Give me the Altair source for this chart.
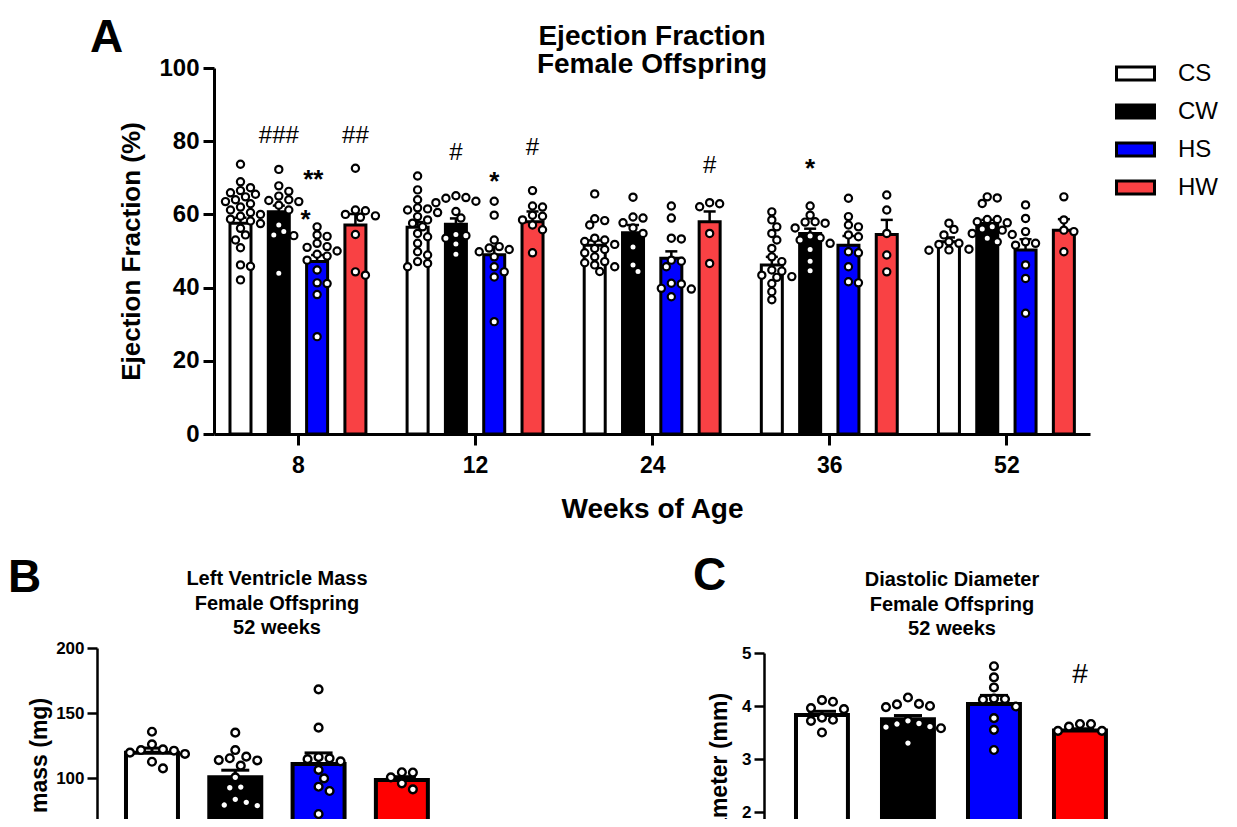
import altair as alt
import pandas as pd

FONT = "Liberation Sans"

# ---------------- data ----------------
groups = ["CS", "CW", "HS", "HW"]
weeks = ["8", "12", "24", "36", "52"]
fill_a = ["#FFFFFF", "#000000", "#0000FF", "#F94144"]
fill_bc = ["#FFFFFF", "#000000", "#0000FF", "#FF0000"]

# Panel A: Ejection fraction (%), group order CS, CW, HS, HW
ef_mean_w8 = [57.6, 60.7, 47.1, 57.1]
ef_mean_w12 = [56.5, 57.3, 49.0, 58.0]
ef_mean_w24 = [51.6, 55.0, 48.0, 58.0]
ef_mean_w36 = [46.2, 54.8, 51.6, 54.5]
ef_mean_w52 = [52.5, 57.5, 50.3, 55.7]

ef_sem_w8 = [1.5, 1.7, 1.8, 3.0]
ef_sem_w12 = [1.4, 1.6, 2.2, 2.8]
ef_sem_w24 = [1.3, 2.1, 1.9, 2.8]
ef_sem_w36 = [2.2, 1.3, 2.5, 4.0]
ef_sem_w52 = [1.2, 1.0, 2.9, 3.0]

ef_dots_w8 = [
    [73.7, 68.9, 67.3, 66.5, 65.9, 65.5, 64.8, 64.0, 63.5, 62.9, 62.0, 61.2, 60.5,
     60.0, 59.5, 58.7, 58.2, 57.5, 56.2, 54.4, 53.0, 50.9, 46.2, 45.8, 42.1],
    [72.3, 67.8, 66.3, 65.0, 64.0, 63.8, 63.5, 62.5, 61.2, 57.1, 55.3, 54.4, 54.2, 43.9],
    [56.6, 54.4, 54.0, 52.1, 51.2, 51.0, 50.0, 49.1, 48.6, 47.5, 44.8, 41.3, 41.1, 38.1, 26.6],
    [72.6, 61.2, 61.0, 60.0, 59.6, 59.2, 54.5, 44.3, 43.4],
]
ef_dots_w12 = [
    [70.5, 66.7, 64.0, 61.8, 61.5, 61.2, 60.5, 59.4, 58.5, 57.6, 56.6, 54.8, 53.9,
     52.1, 49.8, 48.9, 47.1, 46.6, 45.7],
    [65.1, 64.6, 64.4, 63.6, 63.2, 60.8, 59.0, 54.5, 54.2, 53.5, 51.9, 49.1],
    [63.6, 59.8, 53.0, 51.2, 50.8, 50.4, 49.8, 48.4, 45.7, 44.3, 42.9, 30.7],
    [66.5, 62.3, 62.0, 59.8, 59.5, 58.5, 57.1, 55.8, 49.5],
]
ef_dots_w24 = [
    [65.6, 58.8, 58.3, 57.1, 53.5, 53.0, 52.6, 51.8, 50.7, 50.4, 49.5, 48.4, 47.1,
     46.8, 46.2, 45.7, 44.4],
    [64.7, 59.3, 59.0, 57.7, 56.3, 54.8, 51.1, 46.2, 44.4],
    [62.3, 59.0, 53.5, 53.3, 47.5, 47.2, 45.7, 41.2, 41.0, 39.8, 39.6, 37.5],
    [63.2, 62.1, 62.9, 54.8, 46.6],
]
ef_dots_w36 = [
    [60.7, 58.5, 56.6, 54.8, 53.0, 50.7, 48.4, 47.1, 44.8, 44.5, 43.4, 43.0, 42.8,
     41.1, 38.9, 36.7],
    [62.3, 59.8, 58.0, 57.6, 57.9, 56.3, 54.1, 53.6, 53.0, 52.1, 50.4, 47.2, 44.6],
    [64.4, 59.4, 57.1, 56.6, 54.4, 53.9, 49.8, 49.5, 45.7, 41.3, 41.6],
    [65.3, 61.2, 54.8, 48.9, 44.3],
]
ef_dots_w52 = [
    [57.6, 55.9, 54.4, 52.5, 52.1, 51.8, 50.3, 50.2, 50.5],
    [64.8, 64.5, 63.0, 58.6, 58.6, 58.0, 57.7, 56.6, 56.0, 55.7, 54.8, 54.5, 53.5, 52.5],
    [62.6, 58.9, 55.3, 52.5, 52.1, 51.6, 46.2, 42.5, 33.0],
    [64.8, 58.5, 55.7, 55.3, 49.8],
]

# significance marks in panel A: (week index, group index, text, value, shift in bar steps)
ef_marks_week = [0, 0, 0, 0, 1, 1, 1, 2, 3]
ef_marks_group = [1, 3, 2, 2, 1, 2, 3, 3, 1]
ef_marks_text = ["###", "##", "**", "*", "#", "*", "#", "#", "*"]
ef_marks_value = [81.7, 81.7, 71.2, 60.3, 77.1, 70.8, 78.5, 73.5, 74.4]
ef_marks_shift = [0.0, 0.0, -0.1, -0.3, 0.0, 0.0, 0.0, 0.0, 0.0]

# Panel B: LV mass (mg) at 52 weeks
lv_mean = [119.5, 100.5, 110.8, 98.5]
lv_sem = [3.5, 5.5, 8.5, 2.5]
lv_dots = [
    [135.6, 125.9, 122.0, 121.5, 121.0, 119.5, 118.5, 112.5, 107.4],
    [134.9, 121.5, 116.4, 115.2, 113.8, 113.5, 109.5, 100.5, 93.0, 92.5, 83.6, 81.3, 79.2, 78.7],
    [168.2, 138.7, 116.0, 115.1, 114.5, 112.8, 106.2, 99.7, 93.3, 90.0, 72.3],
    [104.4, 104.2, 100.5, 95.9, 91.3],
]

# Panel C: Diastolic diameter (mm) at 52 weeks
dd_mean = [3.83, 3.75, 4.04, 3.54]
dd_sem = [0.07, 0.07, 0.16, 0.03]
dd_dots = [
    [4.11, 4.08, 3.96, 3.94, 3.78, 3.74, 3.72, 3.50],
    [4.16, 4.04, 4.03, 4.00, 3.98, 3.72, 3.67, 3.66, 3.61, 3.60, 3.58, 3.30],
    [4.75, 4.54, 4.35, 4.14, 4.13, 4.12, 3.99, 3.77, 3.55, 3.17],
    [3.66, 3.66, 3.61, 3.53, 3.53],
]
dd_marks_group = [3]
dd_marks_text = ["#"]
dd_marks_value = [4.62]

title_a = ["Ejection Fraction", "Female Offspring"]
title_b = ["Left Ventricle Mass", "Female Offspring", "52 weeks"]
title_c = ["Diastolic Diameter", "Female Offspring", "52 weeks"]

# ---------------- layout helpers ----------------
W, H = 1221, 811


def swarm(vals, ypx, dpx, allow=0.6):
    """deterministic beeswarm offsets (pixels); small overlaps allowed as in the original"""
    order = sorted(range(len(vals)), key=lambda i: -vals[i])
    placed, out = [], [0.0] * len(vals)
    for i in order:
        y = vals[i] * ypx
        k = 0
        while True:
            c = (k + 1) // 2 * (1 if k % 2 else -1)
            x = c * dpx * 0.5
            if all((x - px) ** 2 + (y - py) ** 2 >= allow * dpx ** 2 for px, py in placed):
                break
            k += 1
        placed.append((x, y))
        out[i] = x
    return out


def axis_common(size_l, size_t, tick, width):
    return dict(
        labelFont=FONT, labelFontSize=size_l, labelFontWeight="bold", labelColor="black",
        titleFont=FONT, titleFontSize=size_t, titleFontWeight="bold", titleColor="black",
        tickSize=tick, tickWidth=width, tickColor="black",
        domainWidth=width, domainColor="black", grid=False, labelOverlap=False,
    )


# ---------------- Panel A ----------------
A_XPX, A_YPX = 177.1, 3.66
A_STEP, A_HALF, A_CAP = 0.2163, 0.0593, 0.034
xA = alt.Scale(domain=[-0.474, 4.472], range=[206, 1082])
yA = alt.Scale(domain=[0, 100], range=[426, 60])

means = [ef_mean_w8, ef_mean_w12, ef_mean_w24, ef_mean_w36, ef_mean_w52]
sems = [ef_sem_w8, ef_sem_w12, ef_sem_w24, ef_sem_w36, ef_sem_w52]
dots = [ef_dots_w8, ef_dots_w12, ef_dots_w24, ef_dots_w36, ef_dots_w52]

bar_rows, dot_rows = [], []
for i, w in enumerate(weeks):
    for j, g in enumerate(groups):
        pos = i + (j - 1.5) * A_STEP
        m, s = means[i][j], sems[i][j]
        bar_rows.append(dict(week=w, group=g, pos=pos, left=pos - A_HALF, right=pos + A_HALF,
                             mean=m, top=m + s, capl=pos - A_CAP, capr=pos + A_CAP))
        offs = swarm(dots[i][j], A_YPX, 10)
        for v, o in zip(dots[i][j], offs):
            dot_rows.append(dict(group=g, x=pos + o / A_XPX, value=v))
dfA = pd.DataFrame(bar_rows)
dfA_dots = pd.DataFrame(dot_rows)
dfA_marks = pd.DataFrame(dict(
    x=[wk + (gi - 1.5 + sh) * A_STEP for wk, gi, sh in zip(ef_marks_week, ef_marks_group, ef_marks_shift)],
    value=ef_marks_value, text=ef_marks_text))
dfA_hash = dfA_marks[dfA_marks["text"].str.contains("#")]
dfA_star = dfA_marks[~dfA_marks["text"].str.contains("#")]

label_expr = "[" + ",".join("'%s'" % w for w in weeks) + "][datum.value]"

barsA = alt.Chart(dfA).mark_bar(stroke="black", strokeWidth=3).encode(
    x=alt.X("left:Q", scale=xA, axis=alt.Axis(
        orient="bottom", offset=426 - H, values=[0, 1, 2, 3, 4], labelExpr=label_expr,
        title="Weeks of Age", labelPadding=9, titlePadding=18,
        **axis_common(23, 28, 11, 3))),
    x2="right",
    y=alt.Y("mean:Q", scale=yA, axis=alt.Axis(
        orient="left", offset=-206, values=[0, 20, 40, 60, 80, 100],
        title="Ejection Fraction (%)", labelPadding=4, titlePadding=14,
        **axis_common(24, 26, 11, 3))),
    y2=alt.datum(0),
    fill=alt.Fill("group:N", scale=alt.Scale(domain=groups, range=fill_a), legend=alt.Legend(
        orient="none", legendX=1107, legendY=45, title=None, padding=0,
        symbolType="M-1,-0.34H1V0.34H-1Z", symbolSize=1444, symbolStrokeColor="black",
        symbolStrokeWidth=3, symbolOpacity=1, labelFont=FONT, labelFontSize=24,
        labelColor="black", labelOffset=22, rowPadding=5)),
)
errA = alt.Chart(dfA).mark_rule(color="black", strokeWidth=2.5).encode(
    x=alt.X("pos:Q", scale=xA, axis=None),
    y=alt.Y("mean:Q", scale=yA, axis=None), y2="top")
capA = alt.Chart(dfA).mark_rule(color="black", strokeWidth=2.5).encode(
    x=alt.X("capl:Q", scale=xA, axis=None), x2="capr",
    y=alt.Y("top:Q", scale=yA, axis=None))
dotsA = alt.Chart(dfA_dots).mark_circle(
    size=52, fill="white", stroke="black", strokeWidth=2.2, opacity=1).encode(
    x=alt.X("x:Q", scale=xA, axis=None),
    y=alt.Y("value:Q", scale=yA, axis=None))
hashA = alt.Chart(dfA_hash).mark_text(
    font=FONT, fontSize=24, color="black", baseline="alphabetic", dy=8).encode(
    x=alt.X("x:Q", scale=xA, axis=None), y=alt.Y("value:Q", scale=yA, axis=None), text="text:N")
starA = alt.Chart(dfA_star).mark_text(
    font=FONT, fontSize=26, fontWeight="bold", color="black", baseline="alphabetic", dy=15).encode(
    x=alt.X("x:Q", scale=xA, axis=None), y=alt.Y("value:Q", scale=yA, axis=None), text="text:N")


# ---------------- Panels B and C ----------------
def small_panel(mean, sem, dts, xscale, yscale, xpx, ypx, half, cap, axis):
    rows, drows = [], []
    for j, g in enumerate(groups):
        rows.append(dict(group=g, pos=j, left=j - half, right=j + half, mean=mean[j],
                         top=mean[j] + sem[j], capl=j - cap, capr=j + cap))
        offs = swarm(dts[j], ypx, 11, allow=0.8)
        for v, o in zip(dts[j], offs):
            drows.append(dict(group=g, x=j + o / xpx, value=v))
    df, dd = pd.DataFrame(rows), pd.DataFrame(drows)
    bars = alt.Chart(df).mark_bar(stroke="black", strokeWidth=4).encode(
        x=alt.X("left:Q", scale=xscale, axis=None), x2="right",
        y=alt.Y("mean:Q", scale=yscale, axis=axis), y2=alt.datum(0),
        fill=alt.Fill("group:N", scale=alt.Scale(domain=groups, range=fill_bc), legend=None))
    err = alt.Chart(df).mark_rule(color="black", strokeWidth=3).encode(
        x=alt.X("pos:Q", scale=xscale, axis=None),
        y=alt.Y("mean:Q", scale=yscale, axis=None), y2="top")
    caps = alt.Chart(df).mark_rule(color="black", strokeWidth=3).encode(
        x=alt.X("capl:Q", scale=xscale, axis=None), x2="capr",
        y=alt.Y("top:Q", scale=yscale, axis=None))
    pts = alt.Chart(dd).mark_circle(
        size=60, fill="white", stroke="black", strokeWidth=2.4, opacity=1).encode(
        x=alt.X("x:Q", scale=xscale, axis=None),
        y=alt.Y("value:Q", scale=yscale, axis=None))
    return [bars, err, caps, pts]


xB = alt.Scale(domain=[-0.66, 3.6], range=[89, 89 + 4.26 * 83.3])
yB = alt.Scale(domain=[0, 200], range=[900, 640])
axisB = alt.Axis(orient="left", offset=-89, values=[0, 50, 100, 150, 200], title="LV mass (mg)",
                 titleY=764, labelPadding=3, titlePadding=4, **axis_common(17, 23, 10, 2.5))
layersB = small_panel(lv_mean, lv_sem, lv_dots, xB, yB, 83.3, 1.3, 0.312, 0.168, axisB)

xC = alt.Scale(domain=[-0.674, 3.6], range=[756, 756 + 4.274 * 86])
yC = alt.Scale(domain=[0, 5], range=[910, 645])
axisC = alt.Axis(orient="left", offset=-756, values=[0, 1, 2, 3, 4, 5],
                 title="Diastolic Diameter (mm)", titleY=816, labelPadding=3, titlePadding=10,
                 **axis_common(17, 23, 10, 2.5))
layersC = small_panel(dd_mean, dd_sem, dd_dots, xC, yC, 86, 53, 0.302, 0.163, axisC)
dfC_marks = pd.DataFrame(dict(x=dd_marks_group, value=dd_marks_value, text=dd_marks_text))
hashC = alt.Chart(dfC_marks).mark_text(
    font=FONT, fontSize=28, color="black", baseline="alphabetic", dy=10).encode(
    x=alt.X("x:Q", scale=xC, axis=None), y=alt.Y("value:Q", scale=yC, axis=None), text="text:N")


# ---------------- titles and panel letters ----------------
def text_block(lines, x, y, size, weight="bold", align="center", lh=None):
    kw = dict(font=FONT, fontSize=size, fontWeight=weight, color="black", align=align,
              baseline="alphabetic", text=lines)
    if lh:
        kw["lineHeight"] = lh
    return alt.Chart(pd.DataFrame({"k": [0]})).mark_text(**kw).encode(
        x=alt.value(x), y=alt.value(y))


texts = [
    text_block(title_a, 644, 37, 28, lh=28),
    text_block(title_b, 269, 577, 20, lh=24.5),
    text_block(title_c, 944, 578, 20, lh=24.5),
    text_block("A", 82, 44, 46, align="left"),
    text_block("B", 0, 584, 46, align="left"),
    text_block("C", 685, 582, 46, align="left"),
]

chart = alt.layer(
    barsA, errA, capA, dotsA, hashA, starA,
    *layersB, *layersC, hashC, *texts,
).resolve_scale(
    x="independent", y="independent", fill="independent"
).properties(
    width=W, height=H, autosize=alt.AutoSizeParams(type="none"),
    padding={"left": 0, "top": 0, "right": 0, "bottom": 0},
).configure_view(strokeWidth=0, stroke="transparent").configure(
    background="white", style={"cell": {"stroke": "transparent", "strokeWidth": 0}})

chart.save("out.html", embed_options={"renderer": "svg", "actions": False})
